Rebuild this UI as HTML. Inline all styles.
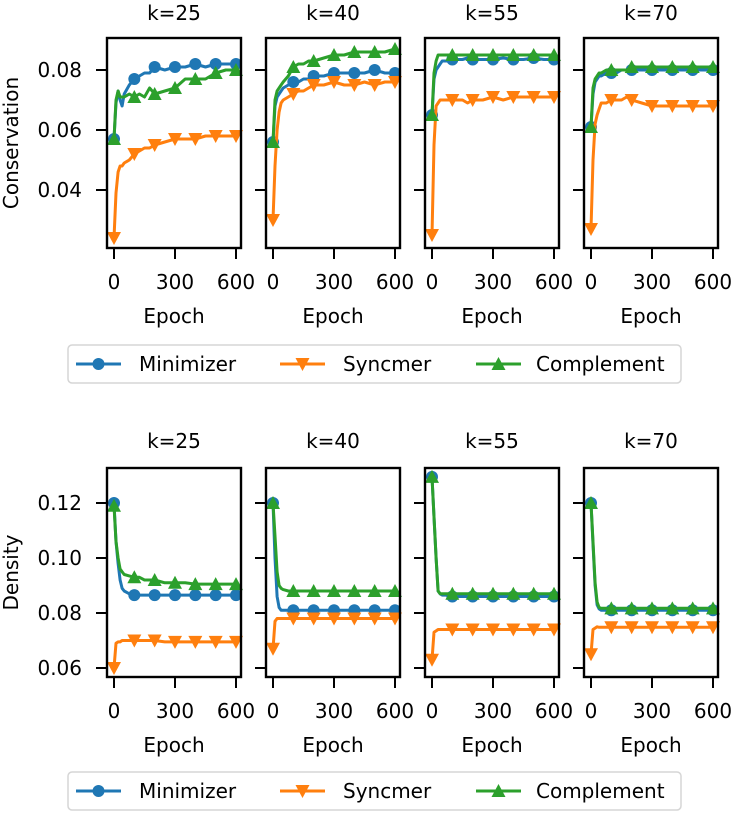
<!DOCTYPE html>
<html><head><meta charset="utf-8"><style>
body{margin:0;background:#fff;}
svg{display:block;font-family:"DejaVu Sans","Liberation Sans",sans-serif;}
</style></head><body>
<svg id="chart" width="733" height="816" viewBox="0 0 733 816" xmlns="http://www.w3.org/2000/svg"></svg>
<script>
const epochs=[0,10,20,30,40,50,75,100,125,150,175,200,250,300,350,400,450,500,550,600];
const markerEpochs=[0,100,200,300,400,500,600];
const titles=["k=25","k=40","k=55","k=70"];
const seriesNames=["Minimizer","Syncmer","Complement"];
// Conservation
const consMin25=[0.057,0.069,0.073,0.070,0.068,0.072,0.075,0.077,0.078,0.079,0.079,0.081,0.080,0.081,0.081,0.082,0.081,0.082,0.082,0.082];
const consSyn25=[0.024,0.039,0.046,0.048,0.048,0.049,0.050,0.052,0.053,0.054,0.054,0.055,0.056,0.057,0.057,0.057,0.058,0.058,0.058,0.058];
const consCom25=[0.057,0.070,0.073,0.071,0.071,0.071,0.072,0.071,0.072,0.071,0.074,0.072,0.073,0.074,0.077,0.077,0.077,0.079,0.080,0.080];
const consMin40=[0.056,0.068,0.071,0.072,0.073,0.074,0.075,0.076,0.076,0.077,0.077,0.078,0.078,0.079,0.079,0.079,0.079,0.080,0.079,0.079];
const consSyn40=[0.030,0.048,0.060,0.066,0.069,0.070,0.071,0.072,0.073,0.073,0.074,0.075,0.075,0.076,0.075,0.075,0.076,0.075,0.076,0.076];
const consCom40=[0.056,0.070,0.073,0.074,0.075,0.076,0.078,0.081,0.082,0.082,0.083,0.083,0.084,0.085,0.085,0.086,0.086,0.086,0.086,0.087];
const consMin55=[0.065,0.077,0.080,0.081,0.082,0.083,0.083,0.0835,0.0835,0.0835,0.084,0.0835,0.0835,0.0835,0.084,0.0835,0.0835,0.084,0.0835,0.0835];
const consSyn55=[0.025,0.055,0.068,0.069,0.070,0.070,0.070,0.070,0.070,0.070,0.069,0.070,0.070,0.071,0.070,0.071,0.071,0.071,0.071,0.071];
const consCom55=[0.065,0.079,0.083,0.085,0.085,0.085,0.085,0.085,0.085,0.085,0.085,0.085,0.085,0.085,0.085,0.085,0.085,0.085,0.085,0.085];
const consMin70=[0.061,0.072,0.076,0.077,0.078,0.078,0.079,0.079,0.079,0.080,0.080,0.080,0.080,0.080,0.080,0.080,0.080,0.080,0.080,0.080];
const consSyn70=[0.027,0.050,0.062,0.065,0.067,0.069,0.069,0.070,0.070,0.070,0.071,0.070,0.069,0.068,0.068,0.068,0.068,0.068,0.068,0.068];
const consCom70=[0.061,0.074,0.077,0.078,0.079,0.079,0.080,0.080,0.080,0.080,0.080,0.081,0.081,0.081,0.081,0.081,0.081,0.081,0.081,0.081];
// Density
const densMin25=[0.120,0.106,0.098,0.092,0.089,0.088,0.087,0.0865,0.0865,0.0865,0.0865,0.0865,0.0865,0.0865,0.0865,0.0865,0.0865,0.0865,0.0865,0.0865];
const densSyn25=[0.060,0.069,0.0695,0.0695,0.070,0.070,0.070,0.070,0.070,0.070,0.070,0.070,0.0695,0.0695,0.0695,0.0695,0.0695,0.0695,0.0695,0.0695];
const densCom25=[0.119,0.106,0.100,0.096,0.095,0.094,0.0935,0.093,0.093,0.092,0.092,0.092,0.091,0.091,0.091,0.0905,0.0905,0.0905,0.0905,0.0905];
const densMin40=[0.120,0.100,0.086,0.082,0.081,0.081,0.081,0.081,0.081,0.081,0.081,0.081,0.081,0.081,0.081,0.081,0.081,0.081,0.081,0.081];
const densSyn40=[0.067,0.077,0.078,0.078,0.078,0.078,0.078,0.078,0.078,0.078,0.078,0.078,0.078,0.078,0.078,0.078,0.078,0.078,0.078,0.078];
const densCom40=[0.120,0.108,0.095,0.090,0.089,0.0885,0.088,0.088,0.088,0.088,0.088,0.088,0.088,0.088,0.088,0.088,0.088,0.088,0.088,0.088];
const densMin55=[0.1295,0.115,0.100,0.088,0.087,0.0865,0.0865,0.086,0.086,0.086,0.086,0.086,0.086,0.086,0.086,0.086,0.086,0.086,0.086,0.086];
const densSyn55=[0.063,0.073,0.0735,0.074,0.074,0.074,0.074,0.074,0.074,0.074,0.074,0.074,0.074,0.074,0.074,0.074,0.074,0.074,0.074,0.074];
const densCom55=[0.1295,0.115,0.100,0.088,0.087,0.087,0.087,0.087,0.087,0.087,0.087,0.087,0.087,0.087,0.087,0.087,0.087,0.087,0.087,0.087];
const densMin70=[0.120,0.105,0.090,0.083,0.0815,0.081,0.081,0.081,0.081,0.081,0.081,0.081,0.081,0.081,0.081,0.081,0.081,0.081,0.081,0.081];
const densSyn70=[0.065,0.074,0.0745,0.075,0.0748,0.0748,0.0748,0.0748,0.0748,0.0748,0.0748,0.0748,0.0748,0.0748,0.0748,0.0748,0.0748,0.0748,0.0748,0.0748];
const densCom70=[0.120,0.106,0.091,0.084,0.082,0.0817,0.0817,0.0817,0.0817,0.0817,0.0817,0.0817,0.0817,0.0817,0.0817,0.0817,0.0817,0.0817,0.0817,0.0817];
const consTicks=[0.04,0.06,0.08];
const consTickLabels=["0.04","0.06","0.08"];
const densTicks=[0.06,0.08,0.10,0.12];
const densTickLabels=["0.06","0.08","0.10","0.12"];
const xTicks=[0,300,600];
const xTickLabels=["0","300","600"];

const consData=[[consMin25,consSyn25,consCom25],[consMin40,consSyn40,consCom40],[consMin55,consSyn55,consCom55],[consMin70,consSyn70,consCom70]];
const densData=[[densMin25,densSyn25,densCom25],[densMin40,densSyn40,densCom40],[densMin55,densSyn55,densCom55],[densMin70,densSyn70,densCom70]];
const colors=["#1f77b4","#ff7f0e","#2ca02c"];
const NS="http://www.w3.org/2000/svg";
const svg=document.getElementById("chart");
function mk(tag,attrs,parent){const e=document.createElementNS(NS,tag);for(const k in attrs)e.setAttribute(k,attrs[k]);(parent||svg).appendChild(e);return e;}
function marker(g,type,x,y,c){
  let m;
  if(type===0){m=mk("circle",{cx:x,cy:y,r:6,fill:c},g);}
  else if(type===1){m=mk("polygon",{points:`${x-7},${y-6} ${x+7},${y-6} ${x},${y+7}`,fill:c},g);}
  else {m=mk("polygon",{points:`${x-7},${y+6} ${x+7},${y+6} ${x},${y-7}`,fill:c},g);}
  
  
}
const panelX=[107,266,425,584],panelW=134;
function drawRow(data,top,bottom,yMin,yMax,ticks,tickLabels,ylabel,rowName,titleY){
  for(let p=0;p<4;p++){
    const x0=panelX[p];
    const xs=e=>x0+7+e/600*122;
    const ys=v=>bottom-(v-yMin)/(yMax-yMin)*(bottom-top);
    const g=mk("g",{});
    
    
    const t=mk("text",{x:x0+panelW/2,y:titleY,"text-anchor":"middle","font-size":"20"},g);t.textContent=titles[p];
    
    for(let s=0;s<3;s++){
      const vals=data[p][s];
      const pts=epochs.map((e,i)=>xs(e).toFixed(1)+","+ys(vals[i]).toFixed(1)).join(" ");
      const pl=mk("polyline",{points:pts,fill:"none",stroke:colors[s],"stroke-width":3,"stroke-linejoin":"round"},g);
      
      
      markerEpochs.forEach(me=>{const i=epochs.indexOf(me);marker(g,s,xs(me),ys(vals[i]),colors[s]);});
    }
    mk("rect",{x:x0,y:top,width:panelW,height:bottom-top,fill:"none",stroke:"#000","stroke-width":2.4},g);
    ticks.forEach((tv,i)=>{
      const y=ys(tv);
      mk("line",{x1:x0-11,x2:x0,y1:y,y2:y,stroke:"#000","stroke-width":2},g);
      if(p===0){const tl=mk("text",{x:x0-25,y:y+7,"text-anchor":"end","font-size":"20"},g);tl.textContent=tickLabels[i];
        }
    });
    xTicks.forEach((tv,i)=>{
      const x=xs(tv);
      mk("line",{x1:x,x2:x,y1:bottom,y2:bottom+11,stroke:"#000","stroke-width":2},g);
      const tl=mk("text",{x:x,y:bottom+41,"text-anchor":"middle","font-size":"20"},g);tl.textContent=xTickLabels[i];
      
    });
    const xl=mk("text",{x:x0+panelW/2,y:bottom+75,"text-anchor":"middle","font-size":"20"},g);xl.textContent="Epoch";
    
  }
  const yl=mk("text",{x:0,y:0,"text-anchor":"middle","font-size":"20",transform:`translate(18,${(top+bottom)/2}) rotate(-90)`});
  yl.textContent=ylabel;
  
}
drawRow(consData,38,248,0.04-58/3000,0.08+32/3000,consTicks,consTickLabels,"Conservation","conservation",20);
drawRow(densData,468,677,0.06-9/2750,0.12+35/2750,densTicks,densTickLabels,"Density","density",448);
function legend(y){
  const g=mk("g",{});
  
  
  mk("rect",{x:68,y:y,width:613,height:38,rx:4,fill:"#fff",stroke:"#d5d5d5","stroke-width":1.5},g);
  const lx=[76,280,476],tx=[139,343,536];
  for(let s=0;s<3;s++){
    const e=mk("g",{},g);
    
    
    mk("line",{x1:lx[s],x2:lx[s]+45,y1:y+19,y2:y+19,stroke:colors[s],"stroke-width":3},e);
    marker(e,s,lx[s]+22.5,y+19,colors[s]);
    const t=mk("text",{x:tx[s],y:y+26,"font-size":"20"},e);t.textContent=seriesNames[s];
  }
}
legend(345);
legend(772);
</script>
</body></html>
